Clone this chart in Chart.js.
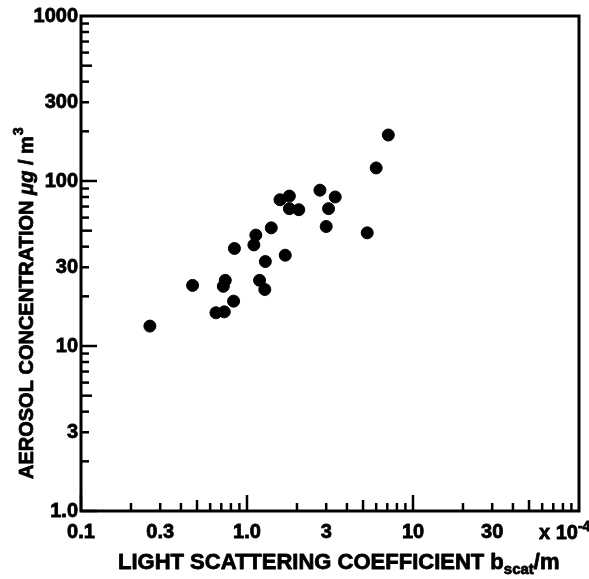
<!DOCTYPE html>
<html>
<head>
<meta charset="utf-8">
<script src="https://cdn.jsdelivr.net/npm/chart.js@4.4.1/dist/chart.umd.min.js"></script>
<style>
  html, body { margin: 0; padding: 0; background: #fff; }
  #wrap { width: 589px; height: 579px; position: relative; }
</style>
</head>
<body>
<div id="wrap"><canvas id="scatterChart"></canvas></div>
<script>
// light scattering coefficient (x 10^-4 /m) vs aerosol concentration (ug/m3)
const bScat = [0.26, 0.47, 0.65, 0.72, 0.73, 0.74, 0.83, 0.84, 1.10, 1.13, 1.19, 1.28, 1.29,
               1.40, 1.58, 1.70, 1.80, 1.80, 2.05, 2.75, 3.00, 3.10, 3.40, 5.30, 6.00, 7.10];
const aerosol = [13.2, 23.3, 15.9, 23.0, 16.1, 25.0, 18.7, 39.0, 41.0, 47.0, 25.0, 22.0, 32.5,
                 52.0, 77.0, 35.5, 81.0, 68.0, 67.0, 88.0, 53.0, 68.0, 80.0, 48.5, 120.0, 190.0];

const xTickValues = [0.1, 0.3, 1, 3, 10, 30];
const xTickLabels = ['0.1', '0.3', '1.0', '3', '10', '30'];
const yTickValues = [1, 3, 10, 30, 100, 300, 1000];
const yTickLabels = ['1.0', '3', '10', '30', '100', '300', '1000'];

const FONT = '"Liberation Sans", Arial, Helvetica, sans-serif';
const INK = 0.8; // extra stroke to thicken the printed lettering

function labelFor(values, labels, v) {
    const i = values.findIndex(t => Math.abs(t - v) / t < 1e-6);
    return i >= 0 ? labels[i] : '';
}

function ink(ctx, text, x, y) {
    ctx.fillText(text, x, y);
    ctx.strokeText(text, x, y);
    return ctx.measureText(text).width;
}

// box frame, inward tick marks and the axis titles
const paperAxes = {
    id: 'paperAxes',
    afterDraw(chart) {
        const { ctx, chartArea: a, scales } = chart;
        const xs = scales.x, ys = scales.y;
        ctx.save();
        ctx.strokeStyle = '#000';
        ctx.lineWidth = 3;
        ctx.lineCap = 'butt';
        ctx.strokeRect(a.left, a.top, a.right - a.left, a.bottom - a.top);

        ctx.lineWidth = 2.5;
        const tickLen = m => (m === 1 ? 16 : m === 5 ? 11 : 8);
        for (let d = 0.1; d < 100; d *= 10) {
            for (let m = 1; m <= 9; m++) {
                const px = xs.getPixelForValue(m * d);
                ctx.beginPath();
                ctx.moveTo(px, a.bottom);
                ctx.lineTo(px, a.bottom - tickLen(m));
                ctx.stroke();
            }
        }
        for (let d = 1; d < 1000; d *= 10) {
            for (let m = 1; m <= 9; m++) {
                const py = ys.getPixelForValue(m * d);
                ctx.beginPath();
                ctx.moveTo(a.left, py);
                ctx.lineTo(a.left + tickLen(m), py);
                ctx.stroke();
            }
        }

        ctx.fillStyle = '#000';
        ctx.lineWidth = INK;
        ctx.lineJoin = 'round';
        ctx.textBaseline = 'alphabetic';
        ctx.textAlign = 'left';

        // exponent note at the right end of the x axis
        let x = 539, y = 539;
        ctx.font = 'bold 20px ' + FONT;
        x += ink(ctx, 'x 10', x, y);
        ctx.font = 'bold 14px ' + FONT;
        ink(ctx, '-4', x, y - 8);

        // x axis title
        x = 118; y = 569;
        ctx.font = 'bold 22px ' + FONT;
        x += ink(ctx, 'LIGHT SCATTERING COEFFICIENT b', x, y);
        ctx.font = 'bold 15px ' + FONT;
        x += ink(ctx, 'scat', x, y + 5);
        ctx.font = 'bold 22px ' + FONT;
        ink(ctx, '/m', x, y);

        // y axis title, reading upward
        ctx.translate(33, 479);
        ctx.rotate(-Math.PI / 2);
        x = 0;
        ctx.font = 'bold 20px ' + FONT;
        x += ink(ctx, 'AEROSOL CONCENTRATION ', x, 0);
        ctx.font = 'italic bold 20px ' + FONT;
        x += ink(ctx, '\u03bcg', x, 0);
        ctx.font = 'bold 20px ' + FONT;
        x += ink(ctx, ' / m', x, 0);
        ctx.font = 'bold 14px ' + FONT;
        ink(ctx, '3', x + 1, -10);
        ctx.restore();
    }
};

const tickFont = { family: FONT, size: 20, weight: 'bold' };

new Chart(document.getElementById('scatterChart'), {
    type: 'scatter',
    data: {
        datasets: [{
            data: bScat.map((v, i) => ({ x: v, y: aerosol[i] })),
            backgroundColor: '#000',
            borderColor: '#000',
            pointRadius: 6,
            pointHoverRadius: 6
        }]
    },
    options: {
        responsive: true,
        maintainAspectRatio: false,
        animation: false,
        layout: { padding: { top: 16, right: 10, bottom: 0, left: 0 } },
        plugins: {
            legend: { display: false },
            tooltip: { enabled: false }
        },
        scales: {
            x: {
                type: 'logarithmic',
                min: 0.1,
                max: 100,
                afterBuildTicks: s => { s.ticks = xTickValues.map(v => ({ value: v })); },
                afterFit: s => { s.height = 68; },
                grid: { display: false, drawTicks: false },
                border: { display: false },
                ticks: {
                    autoSkip: false,
                    maxRotation: 0,
                    padding: 9,
                    color: '#000',
                    textStrokeColor: '#000',
                    textStrokeWidth: INK,
                    font: tickFont,
                    callback: v => labelFor(xTickValues, xTickLabels, v)
                }
            },
            y: {
                type: 'logarithmic',
                min: 1,
                max: 1000,
                afterBuildTicks: s => { s.ticks = yTickValues.map(v => ({ value: v })); },
                afterFit: s => { s.width = 81; },
                grid: { display: false, drawTicks: false },
                border: { display: false },
                ticks: {
                    autoSkip: false,
                    padding: 3,
                    color: '#000',
                    textStrokeColor: '#000',
                    textStrokeWidth: INK,
                    font: tickFont,
                    callback: v => labelFor(yTickValues, yTickLabels, v)
                }
            }
        }
    },
    plugins: [paperAxes]
});
</script>
</body>
</html>
